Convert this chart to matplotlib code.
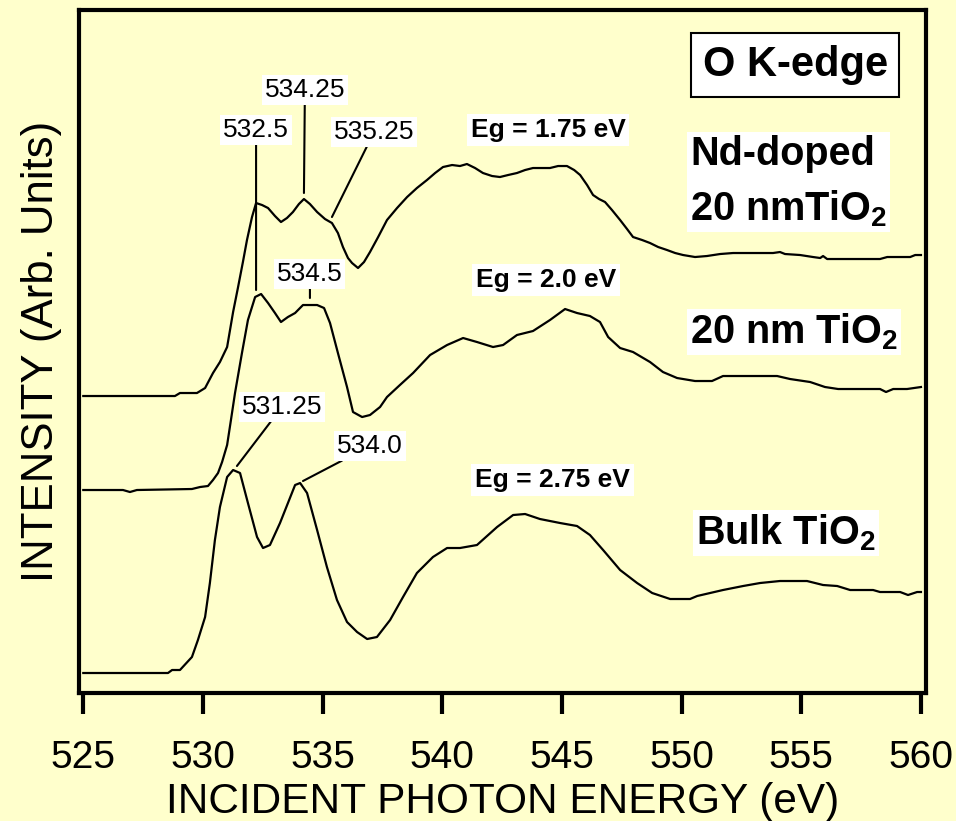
import matplotlib
matplotlib.use("Agg")
import matplotlib.pyplot as plt

# O K-edge XAS spectra, (energy eV, intensity arb. units)
nd_doped = [
    (525.00, 2.97), (528.83, 2.97), (529.04, 3.00), (529.75, 3.00), (530.09, 3.05),
    (530.42, 3.20), (530.71, 3.31), (531.01, 3.46), (531.26, 3.81), (531.46, 4.05),
    (531.67, 4.31), (531.84, 4.53), (532.05, 4.76), (532.22, 4.90), (532.47, 4.88),
    (532.72, 4.85), (533.01, 4.77), (533.26, 4.71), (533.51, 4.75), (533.76, 4.81),
    (534.01, 4.89), (534.22, 4.94), (534.47, 4.89), (534.77, 4.81), (535.10, 4.74),
    (535.39, 4.70), (535.64, 4.60), (535.85, 4.46), (536.06, 4.35), (536.23, 4.30),
    (536.48, 4.25), (536.73, 4.31), (536.98, 4.41), (537.32, 4.56), (537.69, 4.73),
    (538.11, 4.85), (538.53, 4.96), (538.94, 5.05), (539.36, 5.13), (539.70, 5.20),
    (540.03, 5.26), (540.41, 5.28), (540.74, 5.27), (541.03, 5.29), (541.37, 5.25),
    (541.70, 5.20), (542.08, 5.17), (542.41, 5.16), (542.75, 5.18), (543.12, 5.20),
    (543.46, 5.23), (543.79, 5.25), (544.17, 5.25), (544.50, 5.25), (544.84, 5.27),
    (545.21, 5.27), (545.51, 5.23), (545.76, 5.18), (546.05, 5.08), (546.30, 4.98),
    (546.55, 4.94), (546.80, 4.91), (547.09, 4.83), (547.43, 4.73), (547.72, 4.64),
    (547.97, 4.56), (548.35, 4.53), (548.68, 4.50), (549.02, 4.46), (549.39, 4.43),
    (549.73, 4.40), (550.06, 4.38), (550.56, 4.36), (551.06, 4.37), (551.61, 4.39),
    (552.15, 4.40), (552.86, 4.40), (553.49, 4.40), (553.82, 4.40), (554.11, 4.41),
    (554.32, 4.39), (554.95, 4.38), (555.49, 4.36), (555.79, 4.35), (555.91, 4.37),
    (556.08, 4.34), (556.62, 4.34), (557.46, 4.34), (558.29, 4.34), (558.59, 4.36),
    (559.13, 4.36), (559.55, 4.36), (559.76, 4.38), (560.00, 4.38),
]

tio2_20nm = [
    (525.00, 2.03), (526.66, 2.03), (526.95, 2.01), (527.24, 2.03), (529.54, 2.04),
    (529.88, 2.06), (530.21, 2.07), (530.42, 2.13), (530.63, 2.20), (530.80, 2.31),
    (531.01, 2.48), (531.17, 2.73), (531.34, 3.00), (531.63, 3.40), (531.88, 3.73),
    (532.18, 3.96), (532.43, 3.99), (532.72, 3.90), (533.01, 3.80), (533.26, 3.71),
    (533.55, 3.76), (533.85, 3.80), (534.18, 3.88), (534.47, 3.88), (534.77, 3.88),
    (535.06, 3.85), (535.31, 3.70), (535.64, 3.40), (536.02, 3.06), (536.27, 2.81),
    (536.65, 2.76), (536.98, 2.78), (537.40, 2.86), (537.69, 2.96), (538.23, 3.08),
    (538.78, 3.20), (539.49, 3.38), (540.20, 3.48), (540.87, 3.55), (541.45, 3.51),
    (542.12, 3.46), (542.54, 3.48), (543.12, 3.58), (543.79, 3.62), (544.50, 3.73),
    (545.13, 3.84), (545.63, 3.80), (546.17, 3.77), (546.59, 3.71), (546.93, 3.56),
    (547.43, 3.45), (547.97, 3.41), (548.68, 3.31), (549.22, 3.21), (549.81, 3.15),
    (550.56, 3.12), (551.27, 3.12), (551.73, 3.17), (552.86, 3.17), (553.99, 3.17),
    (554.53, 3.14), (555.37, 3.11), (555.99, 3.06), (556.54, 3.04), (557.46, 3.04),
    (558.29, 3.04), (558.54, 3.01), (558.84, 3.04), (559.42, 3.04), (560.00, 3.06),
]

tio2_bulk = [
    (525.00, 0.20), (528.54, 0.20), (528.71, 0.23), (529.04, 0.23), (529.54, 0.36),
    (529.79, 0.53), (530.09, 0.76), (530.29, 1.10), (530.50, 1.53), (530.71, 1.86),
    (531.01, 2.16), (531.26, 2.23), (531.55, 2.20), (531.88, 1.90), (532.26, 1.56),
    (532.51, 1.45), (532.80, 1.48), (533.22, 1.70), (533.85, 2.08), (534.06, 2.10),
    (534.35, 2.00), (534.77, 1.63), (535.18, 1.26), (535.60, 0.93), (536.02, 0.71),
    (536.44, 0.61), (536.86, 0.54), (537.27, 0.56), (537.82, 0.73), (538.36, 0.96),
    (538.94, 1.20), (539.61, 1.36), (540.20, 1.45), (540.74, 1.45), (541.45, 1.48),
    (542.29, 1.66), (542.96, 1.78), (543.46, 1.79), (544.08, 1.74), (544.92, 1.70),
    (545.63, 1.67), (546.17, 1.58), (546.72, 1.43), (547.43, 1.23), (548.14, 1.10),
    (548.77, 1.00), (549.52, 0.94), (550.35, 0.94), (550.65, 0.97), (551.73, 1.03),
    (552.57, 1.07), (553.28, 1.10), (554.11, 1.12), (555.24, 1.12), (555.91, 1.08),
    (556.50, 1.07), (557.04, 1.03), (558.00, 1.03), (558.29, 1.01), (559.13, 1.01),
    (559.46, 0.98), (559.84, 1.01), (560.00, 1.01),
]

# peak markers: label, point on curve, label position
peak_labels = ["532.5", "534.25", "535.25", "534.5", "531.25", "534.0"]
peak_points = [(532.22, 4.03), (534.22, 5.00), (535.39, 4.76),
               (534.47, 3.95), (531.42, 2.27), (534.18, 2.12)]
peak_text_pos = [(532.22, 5.63), (534.26, 6.03), (537.15, 5.61),
                 (534.47, 4.19), (533.30, 2.86), (536.98, 2.47)]

gap_labels = ["Eg = 1.75 eV", "Eg = 2.0 eV", "Eg = 2.75 eV"]
gap_pos = [(544.42, 5.63), (544.33, 4.13), (544.62, 2.13)]

sample_labels = ["Nd-doped\n20 nmTiO$_2$", "20 nm TiO$_2$", "Bulk TiO$_2$"]
sample_pos = [(550.35, 5.11), (550.35, 3.61), (550.60, 1.60)]

x_ticks = [525, 530, 535, 540, 545, 550, 555, 560]

BG = "#FFFFCC"

plt.rcParams["font.family"] = ["Liberation Sans", "DejaVu Sans"]
plt.rcParams["mathtext.default"] = "regular"

fig = plt.figure(figsize=(9.56, 8.21), dpi=100, facecolor=BG)
ax = fig.add_axes([0.0826, 0.1559, 0.8855, 0.8325])
ax.set_facecolor(BG)

for curve in (nd_doped, tio2_20nm, tio2_bulk):
    xs = [p[0] for p in curve]
    ys = [p[1] for p in curve]
    ax.plot(xs, ys, color="black", lw=1.6, solid_joinstyle="round")

box = dict(boxstyle="square,pad=0.1", fc="white", ec="none")
for txt, xy, xyt in zip(peak_labels, peak_points, peak_text_pos):
    ax.annotate(txt, xy=xy, xytext=xyt, ha="center", va="center",
                fontsize=19, bbox=box,
                arrowprops=dict(arrowstyle="-", lw=1.5, color="black",
                                shrinkA=0, shrinkB=0))

for txt, pos in zip(gap_labels, gap_pos):
    ax.text(pos[0], pos[1], txt, ha="center", va="center", fontsize=19,
            fontweight="bold", bbox=dict(boxstyle="square,pad=0.15", fc="white", ec="none"))

for txt, pos in zip(sample_labels, sample_pos):
    ax.text(pos[0], pos[1], txt, ha="left", va="center", fontsize=28.5,
            fontweight="bold", linespacing=1.5,
            bbox=dict(boxstyle="square,pad=0.08", fc="white", ec="none"))

ax.text(554.74, 6.28, "O K-edge", ha="center", va="center", fontsize=30,
        fontweight="bold",
        bbox=dict(boxstyle="square,pad=0.28", fc="white", ec="black", lw=1.5))

ax.set_xlim(524.82, 560.19)
ax.set_ylim(0, 6.835)
ax.set_xticks(x_ticks)
ax.set_yticks([])
ax.tick_params(axis="x", direction="out", length=15, width=3, pad=19, labelsize=28)
for sp in ax.spines.values():
    sp.set_linewidth(3)

ax.set_xlabel("INCIDENT PHOTON ENERGY (eV)", fontsize=30.5)
ax.xaxis.set_label_coords(0.5, -0.13)
ax.set_ylabel("INTENSITY (Arb. Units)", fontsize=31.5)
ax.yaxis.set_label_coords(-0.02, 0.5)

fig.savefig("out.png", dpi=100, facecolor=BG)
